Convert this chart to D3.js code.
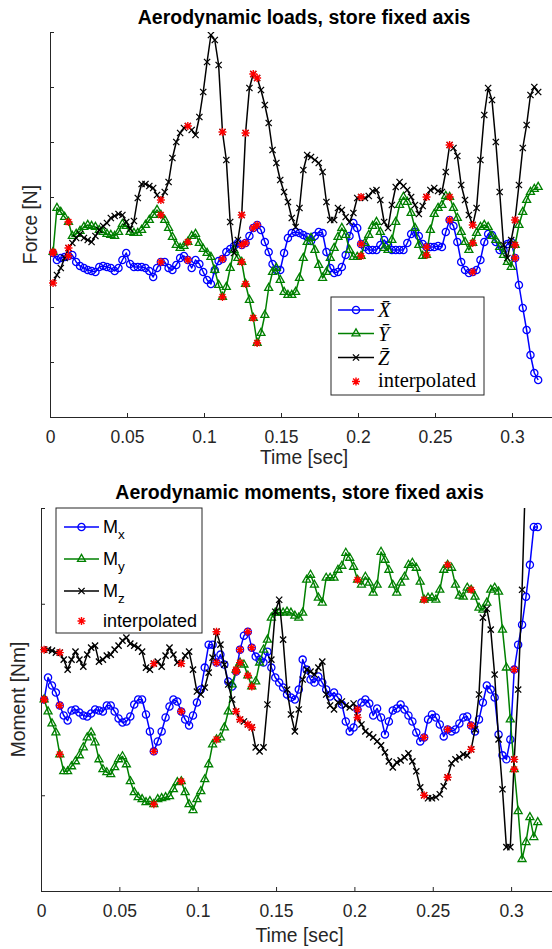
<!DOCTYPE html>
<html>
<head>
<meta charset="utf-8">
<script src="https://cdn.jsdelivr.net/npm/d3@7"></script>
<style>
    body { margin: 0; background: #fff; }
    svg { display: block; }
</style>
</head>
<body>
<svg id="fig" width="552" height="949"></svg>
<script>
// recorder clock: first sample and step [sec]
const t0 = 0.002,
    dt = 0.0025;

// aerodynamic loads, store fixed axis [N]
const forceX = [
    -56, -63, -61, -60, -59, -58, -65, -69, -71, -73,
    -74, -75, -70, -69, -70, -71, -74, -71, -63, -56,
    -67, -70, -70, -70, -71, -74, -80, -71, -65, -65,
    -71, -73, -68, -61, -59, -63, -71, -63, -67, -75,
    -83, -87, -73, -64, -62, -55, -52, -49, -46, -48,
    -46, -39, -31, -28, -33, -45, -55, -67, -73, -73,
    -56, -41, -36, -35, -36, -38, -40, -44, -39, -35,
    -36, -55, -71, -76, -75, -70, -58, -39, -26, -31,
    -47, -50, -53, -53, -53, -48, -43, -48, -53, -53,
    -53, -53, -46, -37, -35, -39, -47, -50, -50, -50,
    -49, -50, -35, -23, -29, -45, -65, -73, -76, -75,
    -73, -63, -45, -37, -38, -45, -53, -53, -47, -45,
    -61, -88, -111, -133, -158, -176, -183
];
const forceY = [
    -55, -11, -15, -20, -25, -39, -37, -34, -30, -28,
    -29, -30, -33, -35, -37, -38, -39, -35, -27, -29,
    -35, -36, -36, -33, -28, -23, -18, -13, -18, -23,
    -31, -40, -48, -51, -49, -45, -39, -37, -46, -52,
    -56, -60, -73, -88, -100, -90, -71, -53, -61, -65,
    -87, -103, -121, -146, -136, -118, -91, -75, -71, -83,
    -95, -98, -98, -95, -81, -61, -45, -41, -53, -68,
    -81, -75, -61, -51, -40, -31, -38, -53, -60, -60,
    -59, -46, -38, -29, -25, -35, -51, -53, -43, -25,
    -8, 0, -5, -16, -31, -48, -59, -58, -33, -17,
    -11, -8, 1, 0, -11, -21, -35, -45, -53, -46,
    -36, -30, -28, -30, -39, -43, -50, -58, -65, -70,
    -48, -28, -15, -3, 5, 8, 10
];
const forceZ = [
    -86, -78, -71, -61, -51, -46, -41, -37, -41, -43,
    -45, -39, -33, -29, -26, -21, -19, -17, -18, -25,
    -32, -24, -1, 13, 13, 11, 9, 2, -3, 5,
    15, 39, 55, 64, 69, 71, 67, 62, 80, 105,
    135, 162, 157, 132, 65, 37, -25, -56, -43, -18,
    64, 109, 123, 119, 107, 92, 74, 47, 34, 17,
    5, -5, -21, -30, -11, 27, 42, 40, 37, 34,
    25, -5, -23, -23, -11, -13, -20, -25, -16, -1,
    0, -1, 1, 6, 7, -3, -25, -31, -8, 10,
    15, 11, 7, 0, -8, -17, -9, 0, 7, 9,
    6, 5, 25, 52, 49, 41, 12, -3, -18, -28,
    -11, 37, 82, 109, 97, 55, 5, -48, -61, -43,
    -23, 12, 49, 72, 102, 110, 105
];

// aerodynamic moments, store fixed axis [Nm]
const momentX = [
    0, 22, 14, 7, -6, -16, -21, -11, -10, -13,
    -16, -17, -14, -10, -11, -12, -6, -6, -12, -19,
    -23, -22, -17, -5, 0, 0, -15, -32, -52, -42,
    -32, -18, -7, 0, -2, -12, -20, -26, -16, -3,
    10, 32, 55, 55, 37, 45, 35, 18, 13, 28,
    50, 64, 68, 52, 43, 40, 37, 48, 32, 22,
    17, 12, 5, 2, 0, 10, 40, 30, 20, 17,
    23, 17, 10, 3, 7, 2, -5, -22, -32, -28,
    -10, -3, 0, -4, -16, -9, -18, -35, -22, -11,
    -9, -5, -10, -16, -22, -33, -42, -38, -20, -15,
    -18, -25, -37, -30, -32, -30, -24, -18, -17, -26,
    -32, -20, -3, 14, 10, 2, -35, -56, -60, -40,
    30, 55, 75, 103, 135, 173, 173
];
const momentY = [
    0, -12, -24, -33, -55, -72, -72, -67, -62, -56,
    -48, -38, -33, -43, -60, -70, -73, -75, -68, -60,
    -57, -65, -82, -93, -98, -100, -103, -102, -105, -100,
    -99, -98, -97, -90, -83, -82, -93, -105, -111, -100,
    -92, -80, -65, -45, -40, -38, -28, -12, 15, 30,
    37, 35, 24, 13, 18, 37, 50, 60, 82, 87,
    87, 87, 88, 87, 84, 82, 87, 120, 125, 115,
    102, 97, 122, 122, 122, 130, 134, 147, 142, 133,
    120, 115, 123, 117, 107, 115, 148, 140, 130, 115,
    107, 117, 123, 135, 137, 132, 118, 100, 102, 102,
    100, 110, 130, 135, 132, 115, 104, 103, 112, 110,
    103, 92, 90, 97, 110, 112, 108, 70, 32, -20,
    -70, -112, -160, -143, -118, -138, -123
];
const momentZ = [
    50, 50, 49, 47, 47, 40, 30, 40, 48, 40,
    33, 45, 52, 54, 38, 40, 44, 45, 50, 54,
    59, 62, 56, 54, 52, 48, 32, 30, 36, 38,
    33, 44, 52, 45, 37, 36, 44, 48, 30, 8,
    5, 12, 27, 42, 68, 55, 35, 15, 0, -12,
    -20, -22, -25, -28, -48, -52, -48, -5, 40, 88,
    100, 60, 10, -15, -32, -10, 20, 30, 28, 25,
    32, 38, 5, -6, -10, -3, -2, -6, -8, -4,
    -18, -25, -32, -35, -38, -42, -46, -53, -62, -68,
    -63, -61, -58, -54, -62, -72, -88, -96, -99, -99,
    -98, -95, -87, -78, -64, -60, -58, -55, -56, -50,
    -30, 5, 82, 91, 70, 25, -40, -90, -148, -148,
    -60, 10, 110, 240, 320, 350, 370
];

// samples that were filled in (shared by all channels)
const interpIdx = [0, 4, 28, 35, 44, 49, 50, 52, 53, 80, 97, 103, 109, 120];

const timeTicks = [0, 0.05, 0.1, 0.15, 0.2, 0.25, 0.3],
    forceTicks = [-220, -165, -110, -55, 0, 55, 110, 165],
    momentTicks = [-192, -96, 0, 96, 192];

const time = forceX.map((d, i) => t0 + i * dt);

const svg = d3.select('#fig'),
    SANS = "'Liberation Sans', Arial, Helvetica, sans-serif",
    SERIF = "'Liberation Serif', 'Times New Roman', serif",
    AXIS = '#262626';

function markerPath (kind) {
    if (kind === 'o') {
        const r = 3.6;
        return `M${r},0A${r},${r} 0 1,1 ${-r},0A${r},${r} 0 1,1 ${r},0Z`;
    }
    if (kind === '^') {
        return 'M0,-4.6L4,2.4L-4,2.4Z';
    }
    if (kind === 'x') {
        const r = 3.1;
        return `M${-r},${-r}L${r},${r}M${-r},${r}L${r},${-r}`;
    }
    // asterisk
    const r = 4, a = 2.9;
    return `M0,${-r}V${r}M${-r},0H${r}M${-a},${-a}L${a},${a}M${-a},${a}L${a},${-a}`;
}

function panel (opt) {
    const x = d3.scaleLinear().domain([0, 0.33]).range([opt.left, opt.left + 0.33 * opt.pxPerSec]),
        y = d3.scaleLinear().domain(opt.yDomain).range([opt.bottom, opt.top]),
        g = svg.append('g');

    svg.append('clipPath').attr('id', opt.id)
                    .append('rect')
                    .attr('x', opt.left - 8)
                    .attr('y', opt.top)
                    .attr('width', 600)
                    .attr('height', opt.bottom - opt.top + 8);

    // axes (box off, ticks inside)
    g.append('g')
                    .attr('transform', `translate(0,${opt.bottom})`)
                    .call(d3.axisBottom(x).tickValues(timeTicks).tickSize(-4).tickSizeOuter(0)
                        .tickPadding(14).tickFormat(d => String(d)))
                    .call(a => a.selectAll('path,line').attr('stroke', AXIS))
                    .call(a => a.selectAll('text').attr('fill', AXIS))
                    .attr('font-size', 17.5)
                    .attr('font-family', SANS);

    g.append('g')
                    .attr('transform', `translate(${opt.left},0)`)
                    .call(d3.axisLeft(y).tickValues(opt.yTicks).tickSize(-4).tickSizeOuter(0).tickFormat(() => ''))
                    .call(a => a.selectAll('path,line').attr('stroke', AXIS));

    // series
    const plot = g.append('g').attr('clip-path', `url(#${opt.id})`),
        line = d3.line().x((d, i) => x(time[i])).y(d => y(d));

    opt.series.forEach(s => {
        plot.append('path')
                        .datum(s.values)
                        .attr('d', line)
                        .attr('fill', 'none')
                        .attr('stroke', s.color)
                        .attr('stroke-width', 1.5)
                        .attr('stroke-linejoin', 'round');
        plot.append('g').selectAll('path')
                        .data(s.values)
                        .enter().append('path')
                        .attr('transform', (d, i) => `translate(${x(time[i])},${y(d)})`)
                        .attr('d', markerPath(s.marker))
                        .attr('fill', 'none')
                        .attr('stroke', s.color)
                        .attr('stroke-width', 1.3);
    });

    opt.series.forEach(s => {
        plot.append('g').selectAll('path')
                        .data(interpIdx)
                        .enter().append('path')
                        .attr('transform', i => `translate(${x(time[i])},${y(s.values[i])})`)
                        .attr('d', markerPath('*'))
                        .attr('fill', 'none')
                        .attr('stroke', '#ff0000')
                        .attr('stroke-width', 1.4);
    });

    const mid = (opt.left + x.range()[1]) / 2;

    g.append('text')
                    .attr('x', mid).attr('y', opt.titleY)
                    .attr('text-anchor', 'middle')
                    .attr('font-family', SANS).attr('font-weight', 'bold').attr('font-size', 19.5)
                    .attr('fill', '#000')
                    .text(opt.title);

    g.append('text')
                    .attr('x', mid).attr('y', opt.xLabelY)
                    .attr('text-anchor', 'middle')
                    .attr('font-family', SANS).attr('font-size', 19.3)
                    .attr('fill', AXIS)
                    .text('Time [sec]');

    g.append('text')
                    .attr('transform', `translate(${opt.yLabelX},${(opt.top + opt.bottom) / 2}) rotate(-90)`)
                    .attr('text-anchor', 'middle')
                    .attr('font-family', SANS).attr('font-size', 19.3)
                    .attr('fill', AXIS)
                    .text(opt.yLabel);

    // legend
    const L = opt.legend,
        lg = g.append('g');
    lg.append('rect')
                    .attr('x', L.x).attr('y', L.y).attr('width', L.w).attr('height', L.h)
                    .attr('fill', '#fff').attr('stroke', AXIS).attr('stroke-width', 1);

    const items = opt.series.map(s => ({ color: s.color, marker: s.marker }))
                    .concat([{ color: '#ff0000', marker: '*' }]);

    items.forEach((it, k) => {
        const ry = L.rows[k],
            cx = (L.lineX0 + L.lineX1) / 2;
        if (it.marker !== '*') {
            lg.append('line')
                            .attr('x1', L.lineX0).attr('x2', L.lineX1)
                            .attr('y1', ry).attr('y2', ry)
                            .attr('stroke', it.color).attr('stroke-width', 1.5);
        }
        lg.append('path')
                        .attr('transform', `translate(${cx},${ry})`)
                        .attr('d', markerPath(it.marker))
                        .attr('fill', 'none')
                        .attr('stroke', it.color)
                        .attr('stroke-width', it.marker === '*' ? 1.4 : 1.3);
        L.text(lg, k, L.textX, ry);
    });
}

panel({
    id: 'clip-loads',
    left: 50, pxPerSec: 1540, top: 32, bottom: 417,
    yDomain: [-220, 165], yTicks: forceTicks,
    title: 'Aerodynamic loads, store fixed axis', titleY: 24,
    xLabelY: 464, yLabel: 'Force [N]', yLabelX: 37,
    series: [
        { values: forceX, color: '#0000ff', marker: 'o' },
        { values: forceY, color: '#008000', marker: '^' },
        { values: forceZ, color: '#000000', marker: 'x' }
    ],
    legend: {
        x: 331, y: 297, w: 153, h: 98,
        rows: [310, 333.5, 357.5, 381.5],
        lineX0: 338, lineX1: 374, textX: 378,
        text: (lg, k, tx, ry) => {
            const labels = ['X\u0304', 'Y\u0304', 'Z\u0304'];
            lg.append('text')
                            .attr('x', tx).attr('y', k < 3 ? ry + 7 : ry + 5.5)
                            .attr('font-family', SERIF).attr('font-size', 20.5)
                            .attr('font-style', k < 3 ? 'italic' : 'normal')
                            .attr('fill', '#000')
                            .text(k < 3 ? labels[k] : 'interpolated');
        }
    }
});

panel({
    id: 'clip-moments',
    left: 41, pxPerSec: 1567, top: 508, bottom: 891,
    yDomain: [-192, 192], yTicks: momentTicks,
    title: 'Aerodynamic moments, store fixed axis', titleY: 499,
    xLabelY: 942, yLabel: 'Moment [Nm]', yLabelX: 25,
    series: [
        { values: momentX, color: '#0000ff', marker: 'o' },
        { values: momentY, color: '#008000', marker: '^' },
        { values: momentZ, color: '#000000', marker: 'x' }
    ],
    legend: {
        x: 56, y: 508, w: 146, h: 125,
        rows: [527, 559, 591, 621],
        lineX0: 64, lineX1: 99, textX: 103,
        text: (lg, k, tx, ry) => {
            const t = lg.append('text')
                            .attr('x', tx).attr('y', ry + 6)
                            .attr('font-family', SANS).attr('font-size', 18)
                            .attr('fill', '#000');
            if (k < 3) {
                t.append('tspan').text('M');
                t.append('tspan').attr('dy', 6).attr('font-size', 13.5).text(['x', 'y', 'z'][k]);
            } else {
                t.text('interpolated');
            }
        }
    }
});
</script>
</body>
</html>
